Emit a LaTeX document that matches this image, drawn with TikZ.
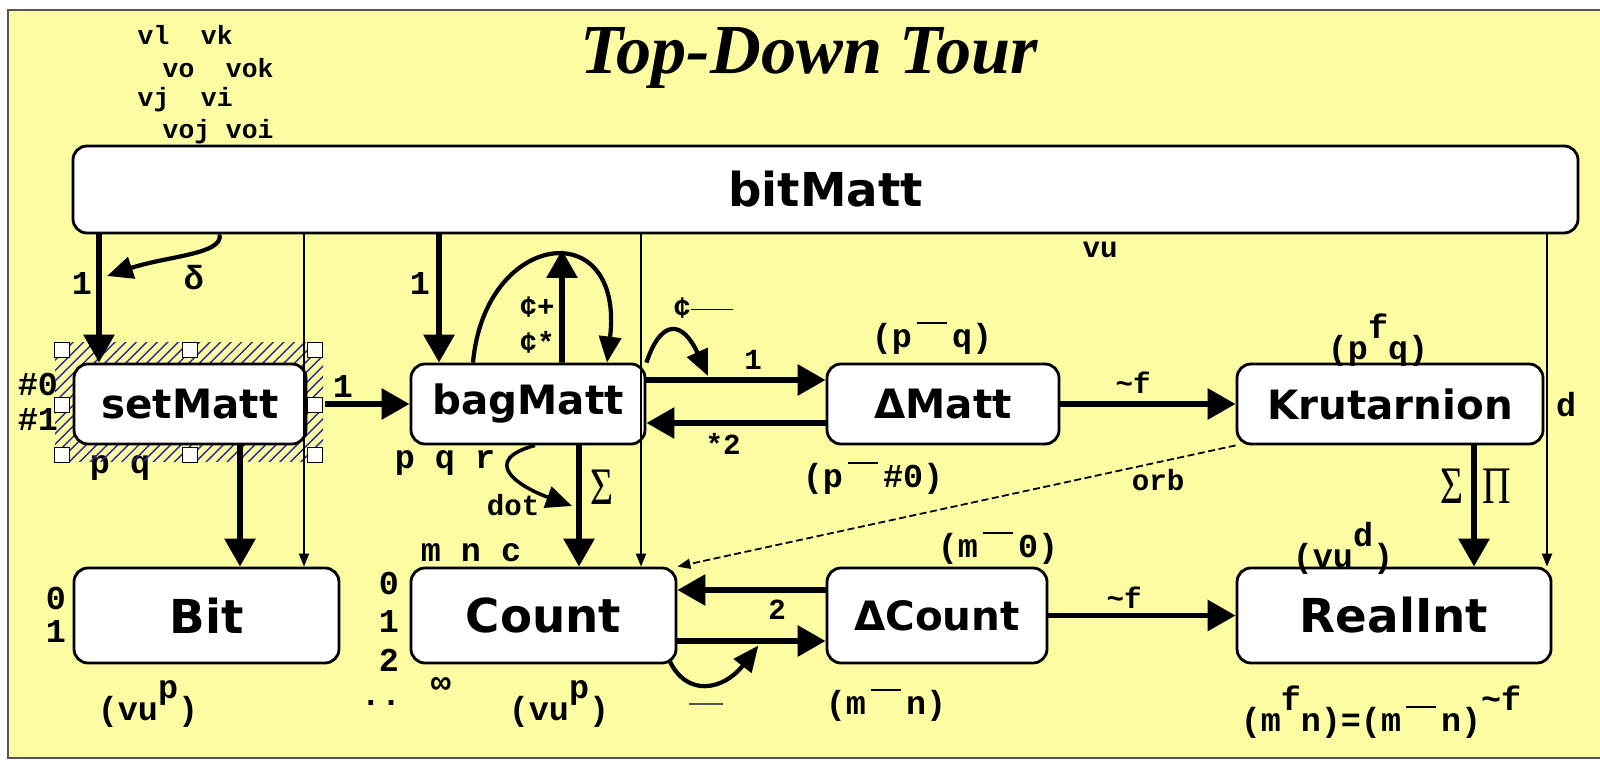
\documentclass[tikz,border=0pt]{standalone}
\usepackage{fontspec}
\usetikzlibrary{arrows.meta,positioning,patterns}
\newfontfamily\boxfont{DejaVu Sans}
\newfontfamily\courfont{Liberation Mono}
\newfontfamily\symfont{Liberation Serif}
\definecolor{paper}{HTML}{FCFCA2}
\definecolor{rim}{HTML}{555555}
\definecolor{hatch}{HTML}{2A2A9A}
% raised bar and raised letter of the labels
\newcommand{\upbar}[1][0.9em]{\hspace{0.15em}\raisebox{1.35ex}{\rule{#1}{0.5pt}}\hspace{0.15em}}
\newcommand{\upto}[1]{\raisebox{1.2ex}{#1}}

\begin{document}
\begin{tikzpicture}[x=1cm,y=1cm,
  mattbox/.style={draw=black,line width=0.8pt,fill=white,rounded corners=1.4mm,inner sep=0pt,
    font=\boxfont\bfseries\fontsize{11.5}{12}\selectfont},
  bigbox/.style={mattbox,font=\boxfont\bfseries\fontsize{13.3}{14}\selectfont},
  lab/.style={inner sep=0pt,font=\courfont\bfseries\fontsize{9.5}{10}\selectfont},
  smalllab/.style={inner sep=0pt,font=\courfont\bfseries\fontsize{8.3}{9}\selectfont},
  vlab/.style={inner sep=0pt,anchor=west,font=\courfont\bfseries\fontsize{7.5}{9}\selectfont},
  siglab/.style={inner sep=0pt,font=\symfont\fontsize{15}{15}\selectfont},
  fatarr/.style={line width=1.7pt,-{Triangle[length=2.8mm,width=3mm]}},
  curlarr/.style={line width=1.2pt,-{Triangle[length=2.6mm,width=2.2mm]}},
  thinarr/.style={line width=0.5pt,-{Triangle[length=1.3mm,width=1mm]}},
  handle/.style={draw=black,fill=white,line width=0.5pt,minimum size=1.5mm,inner sep=0pt}]
  \useasboundingbox (0,0) rectangle (16,-7.63);
  \fill[white] (0,0) rectangle (16,-7.63);
  % paper
  \fill[paper] (0.08,-0.10) rectangle (16,-7.58);
  \draw[rim,line width=0.8pt] (16,-0.10) -- (0.08,-0.10) -- (0.08,-7.58) -- (16,-7.58);
  \node (title) at (8.09,-0.58) {\symfont\bfseries\itshape\fontsize{20}{20}\selectfont Top-Down Tour};
  \node[vlab] (v1) at (1.37,-0.35) {vl\ \ vk};
  \node[vlab] (v2) at (1.62,-0.68) {vo\ \ vok};
  \node[vlab] (v3) at (1.37,-1.00) {vj\ \ vi};
  \node[vlab] (v4) at (1.62,-1.32) {voj voi};

  % setMatt is selected
  \node[lab] (h0) at (0.38,-3.84) {\#0};
  \node[lab] (h1) at (0.38,-4.20) {\#1};
  \node[lab] (pq1) at (1.20,-4.68) {p\ q};
  \fill[pattern=north east lines,pattern color=hatch] (0.55,-3.43) rectangle (3.23,-4.62);

  % boxes
  \node[bigbox,minimum width=15.05cm,minimum height=8.7mm] (bitmatt) at (8.255,-1.895) {bitMatt};
  \node[mattbox,minimum width=2.32cm,minimum height=8mm] (setmatt) at (1.90,-4.04) {setMatt};
  \node[mattbox,minimum width=2.34cm,minimum height=8mm] (bagmatt) at (5.28,-4.04) {bagMatt};
  \node[mattbox,minimum width=2.32cm,minimum height=8mm] (dmatt) at (9.43,-4.04) {ΔMatt};
  \node[mattbox,minimum width=3.06cm,minimum height=8mm] (kru) at (13.90,-4.04) {Krutarnion};
  \node[bigbox,minimum width=2.65cm,minimum height=9.5mm] (bit) at (2.065,-6.155) {Bit};
  \node[bigbox,minimum width=2.65cm,minimum height=9.5mm] (count) at (5.435,-6.155) {Count};
  \node[mattbox,minimum width=2.20cm,minimum height=9.5mm] (dcount) at (9.37,-6.155) {ΔCount};
  \node[bigbox,minimum width=3.14cm,minimum height=9.5mm] (realint) at (13.94,-6.155) {RealInt};

  % free ends of the curls
  \coordinate (deltatip) at (1.07,-2.76);
  \coordinate (bagtop) at (5.62,-2.50);
  \coordinate (centtip) at (7.08,-3.76);
  \coordinate (dottip) at (5.72,-5.06);

  % from bitMatt
  \draw[fatarr] ([xshift=-9.1mm]setmatt.north |- bitmatt.south) -- ([xshift=-9.1mm]setmatt.north);
  \draw[fatarr] ([xshift=-8.9mm]bagmatt.north |- bitmatt.south) -- ([xshift=-8.9mm]bagmatt.north);
  \draw[thinarr] ([xshift=9.75mm]bit.north |- bitmatt.south) -- ([xshift=9.75mm]bit.north);
  \draw[thinarr] ([xshift=9.75mm]count.north |- bitmatt.south) -- ([xshift=9.75mm]count.north);
  \draw[thinarr] ([xshift=15.3mm]realint.north |- bitmatt.south) -- ([xshift=15.3mm]realint.north);
  \draw[curlarr] ([xshift=14.8mm]bitmatt.south west) .. controls +(0.04,-0.2) and +(0.6,0.2) .. (deltatip);

  % middle row
  \draw[fatarr] ([xshift=1.8mm]setmatt.east) -- (bagmatt.west);
  \draw[fatarr] ([xshift=5mm]setmatt.south) -- ([xshift=5mm]setmatt.south |- bit.north);
  \draw[fatarr] ([xshift=3.4mm]bagmatt.north) -- (bagtop);
  \draw[curlarr] ([xshift=-5.5mm]bagmatt.north) .. controls +(0.12,1.33) and +(0.18,1.49) .. ([xshift=7.9mm]bagmatt.north);
  \draw[curlarr] (bagmatt.north east) .. controls +(0.15,0.45) and +(-0.25,0.55) .. (centtip);
  \draw[curlarr,line width=1pt] ([xshift=0.7mm]bagmatt.south) .. controls +(-0.55,-0.15) and +(-0.55,0.2) .. (dottip);
  \draw[fatarr] ([xshift=5.1mm]bagmatt.south) -- ([xshift=5.1mm]bagmatt.south |- count.north);
  \draw[fatarr] ([yshift=2.4mm]bagmatt.east) -- ([yshift=2.4mm]dmatt.west);
  \draw[fatarr] ([yshift=-1.9mm]dmatt.west) -- ([yshift=-1.9mm]bagmatt.east);
  \draw[fatarr] (dmatt.east) -- (kru.west);
  \draw[thinarr,dash pattern=on 2pt off 1pt] (kru.south west) -- (count.north east);
  \draw[fatarr] ([xshift=8.4mm]kru.south) -- ([xshift=8.4mm]kru.south |- realint.north);

  % bottom row
  \draw[fatarr] ([yshift=2.55mm]dcount.west) -- ([yshift=2.55mm]count.east);
  \draw[fatarr] ([yshift=-2.55mm]count.east) -- ([yshift=-2.55mm]dcount.west);
  \draw[curlarr] ([xshift=-0.8mm,yshift=0.4mm]count.south east) .. controls +(0.17,-0.37) and +(-0.35,-0.45) .. ([xshift=8.1mm,yshift=-3mm]count.east);
  \draw[fatarr] (dcount.east) -- (realint.west);

  % handles
  \foreach \hx in {0.62,1.90,3.15}{
    \foreach \hy in {-3.50,-4.55}{
      \node[handle] at (\hx,\hy) {};}}
  \node[handle] (hw) at (0.62,-4.05) {};
  \node[handle] (he) at (3.15,-4.05) {};

  % labels
  \node[lab] (l1a) at (0.82,-2.84) {1};
  \node[lab] (ldelta) at (1.94,-2.78) {δ};
  \node[lab] (l1b) at (4.20,-2.84) {1};
  \node[lab] (l1c) at (3.43,-3.87) {1};
  \node[smalllab] (lcp) at (5.37,-3.07) {¢+};
  \node[smalllab] (lcs) at (5.37,-3.42) {¢*};
  \node[smalllab] (lcm) at (7.03,-3.08) {¢\rule[0.45ex]{4.2mm}{0.5pt}};
  \node[smalllab] (l1d) at (7.53,-3.60) {1};
  \node[smalllab] (lt2) at (7.23,-4.44) {*2};
  \node[lab] (lpq) at (9.32,-3.38) {(p\upbar q)};
  \node[lab] (lpfq) at (13.78,-3.40) {(p\upto{f}q)};
  \node[lab] (lpd) at (8.73,-4.78) {(p\upbar\#0)};
  \node[smalllab] (lorb) at (11.58,-4.80) {orb};
  \node[smalllab] (lvu) at (11.00,-2.50) {vu};
  \node[lab] (ld) at (15.66,-4.05) {d};
  \node[siglab] (lsa) at (14.52,-4.86) {\scalebox{0.75}[1]{Σ}};
  \node[siglab] (lpi) at (14.97,-4.86) {\scalebox{0.75}[1]{Π}};
  \node[lab] (lpqr) at (4.45,-4.63) {p q r};
  \node[smalllab] (ldot) at (5.13,-5.05) {dot};
  \node[siglab] (lsb) at (6.02,-4.87) {\scalebox{0.75}[1]{Σ}};
  \node[lab] (lb0) at (0.56,-5.98) {0};
  \node[lab] (lb1) at (0.56,-6.32) {1};
  \node[lab] (lvp1) at (1.48,-7.04) {(vu\upto{p})};
  \node[lab] (lc0) at (3.89,-5.83) {0};
  \node[lab] (lc1) at (3.89,-6.22) {1};
  \node[lab] (lc2) at (3.89,-6.60) {2};
  \node[lab] (ldots) at (3.81,-7.03) {..};
  \node[lab] (linf) at (4.41,-6.85) {∞};
  \node[lab] (lmnc) at (4.71,-5.53) {m n c};
  \node[lab] (lvp2) at (5.59,-7.04) {(vu\upto{p})};
  \node[lab] (ldash) at (7.06,-7.08) {\color{rim}\rule[0.5ex]{3.4mm}{0.6pt}};
  \node[smalllab] (l2) at (7.77,-6.10) {2};
  \node[smalllab] (lf1) at (11.33,-3.83) {\textasciitilde f};
  \node[smalllab] (lf2) at (11.24,-5.98) {\textasciitilde f};
  \node[lab] (lm0) at (9.98,-5.48) {(m\upbar 0)};
  \node[lab] (lmn) at (8.86,-7.05) {(m\upbar n)};
  \node[lab] (lvd) at (13.43,-5.48) {(vu\upto{d})};
  \node[lab] (leq) at (13.81,-7.12) {(m\upto{f}n)=(m\upbar n)\upto{\textasciitilde f}};
\end{tikzpicture}
\end{document}
